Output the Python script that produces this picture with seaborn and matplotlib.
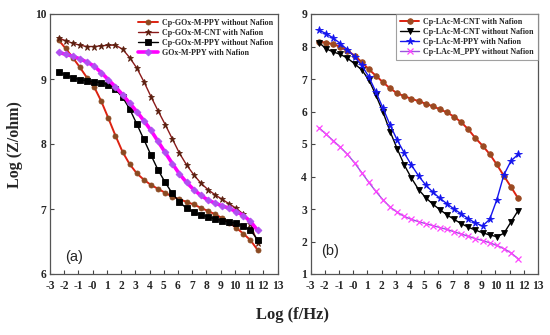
import matplotlib
matplotlib.use("Agg")
import matplotlib.pyplot as plt
import seaborn as sns
import pandas as pd

# ---------------- data ----------------
log_f = [-2.4, -1.9, -1.4, -0.9, -0.4, 0.1, 0.6, 1.1, 1.6, 2.1, 2.6, 3.1, 3.6, 4.1, 4.6,
         5.1, 5.6, 6.1, 6.6, 7.1, 7.6, 8.1, 8.6, 9.1, 9.6, 10.1, 10.6, 11.1, 11.6]

# panel (a)
gox_ppy_wo = [9.60, 9.47, 9.33, 9.18, 9.02, 8.88, 8.66, 8.40, 8.13, 7.88, 7.69, 7.55, 7.45, 7.37, 7.31,
              7.25, 7.19, 7.15, 7.11, 7.07, 7.02, 6.97, 6.92, 6.86, 6.79, 6.71, 6.62, 6.52, 6.37]
gox_cnt_w = [9.63, 9.59, 9.55, 9.52, 9.50, 9.50, 9.51, 9.52, 9.52, 9.46, 9.33, 9.17, 8.96, 8.73, 8.51,
             8.30, 8.08, 7.86, 7.68, 7.53, 7.40, 7.30, 7.22, 7.15, 7.08, 7.01, 6.92, 6.77, 6.48]
gox_ppy_wo2 = [9.11, 9.06, 9.02, 8.99, 8.97, 8.96, 8.94, 8.91, 8.84, 8.72, 8.54, 8.31, 8.07, 7.83, 7.60,
               7.41, 7.24, 7.11, 7.01, 6.95, 6.91, 6.88, 6.85, 6.82, 6.80, 6.78, 6.74, 6.67, 6.53]
gox_ppy_w = [9.41, 9.38, 9.35, 9.31, 9.26, 9.20, 9.10, 8.99, 8.88, 8.76, 8.63, 8.50, 8.36, 8.21, 8.04,
             7.87, 7.70, 7.54, 7.41, 7.30, 7.21, 7.14, 7.09, 7.05, 7.01, 6.96, 6.90, 6.81, 6.67]

# panel (b)
lac_cnt_w = [8.15, 8.12, 8.07, 7.99, 7.87, 7.72, 7.52, 7.30, 7.10, 6.90, 6.71, 6.56, 6.47, 6.39, 6.32,
             6.24, 6.16, 6.07, 5.97, 5.84, 5.67, 5.45, 5.18, 4.95, 4.69, 4.37, 4.02, 3.68, 3.33]
lac_cnt_wo = [8.12, 7.93, 7.83, 7.76, 7.64, 7.47, 7.28, 6.98, 6.50, 5.98, 5.38, 4.85, 4.35, 3.95, 3.60,
              3.35, 3.15, 2.98, 2.82, 2.68, 2.55, 2.44, 2.35, 2.27, 2.20, 2.15, 2.25, 2.60, 2.95]
lac_ppy_w = [8.50, 8.40, 8.26, 8.09, 7.90, 7.69, 7.42, 7.07, 6.60, 6.10, 5.58, 5.12, 4.72, 4.35, 4.02,
             3.74, 3.52, 3.33, 3.16, 3.00, 2.85, 2.70, 2.57, 2.48, 2.68, 3.28, 4.05, 4.48, 4.68]
lac_ppy_wo = [5.50, 5.30, 5.10, 4.90, 4.68, 4.42, 4.12, 3.82, 3.54, 3.28, 3.06, 2.90, 2.77, 2.68, 2.61,
              2.55, 2.49, 2.43, 2.37, 2.30, 2.23, 2.16, 2.09, 2.03, 1.96, 1.88, 1.78, 1.65, 1.47]

labels_a = ["Cp-GOx-M-PPY without Nafion", "Cp-GOx-M-CNT with Nafion",
            "Cp-GOx-M-PPY without Nafion", "GOx-M-PPY with Nafion"]
labels_b = ["Cp-LAc-M-CNT with Nafion", "Cp-LAc-M-CNT without Nafion",
            "Cp-LAc-M-PPY with Nafion", "Cp-LAc-M_PPY without Nafion"]
xticks = list(range(-3, 14))
xticklabels = ["-3", "-2", "-1", "-0"] + [str(v) for v in range(1, 14)]

# ---------------- style ----------------
sns.set_style("ticks")
plt.rcParams["font.family"] = ["Liberation Serif", "DejaVu Serif"]
plt.rcParams["font.weight"] = "bold"

fig = plt.figure(figsize=(5.5, 3.35), dpi=100)
W, H = 550.0, 335.0
axA = fig.add_axes([50 / W, 1 - 274 / H, 227.5 / W, 260 / H])
axB = fig.add_axes([310.5 / W, 1 - 274 / H, 227.5 / W, 260 / H])

styles_a = [
    dict(color="#dd2211", marker="o", markersize=3.6, markerfacecolor="#8b4a22",
         markeredgecolor="#8b4a22", linewidth=1.4),
    dict(color="#8b1a1a", marker="*", markersize=5.0, markerfacecolor="#5b2010",
         markeredgecolor="#5b2010", linewidth=1.0),
    dict(color="#000000", marker="s", markersize=4.0, markerfacecolor="#000000",
         markeredgecolor="#000000", linewidth=1.0),
    dict(color="#ff00ff", marker="D", markersize=3.5, markerfacecolor="#b050f0",
         markeredgecolor="#b050f0", linewidth=2.6),
]
styles_b = [
    dict(color="#dd2211", marker="o", markersize=4.0, markerfacecolor="#9b4a22",
         markeredgecolor="#9b4a22", linewidth=1.4),
    dict(color="#000000", marker="v", markersize=4.5, markerfacecolor="#000000",
         markeredgecolor="#000000", linewidth=1.0),
    dict(color="#1515ee", marker="*", markersize=5.5, markerfacecolor="#1515ee",
         markeredgecolor="#1515ee", linewidth=1.0),
    dict(color="#9955dd", marker="x", markersize=4.0, markerfacecolor="#ff44ff",
         markeredgecolor="#ff44ff", markeredgewidth=0.9, linewidth=1.0),
]

for ax, series, labels, styles in [
    (axA, [gox_ppy_wo, gox_cnt_w, gox_ppy_wo2, gox_ppy_w], labels_a, styles_a),
    (axB, [lac_cnt_w, lac_cnt_wo, lac_ppy_w, lac_ppy_wo], labels_b, styles_b),
]:
    for vals, lab, st in zip(series, labels, styles):
        df = pd.DataFrame({"logf": log_f, "logz": vals})
        st = dict(st)
        st.setdefault("markeredgewidth", 0.6)
        sns.lineplot(data=df, x="logf", y="logz", ax=ax, label=lab,
                     estimator=None, sort=False, **st)
    ax.set_xlim(-3, 13)
    ax.set_xticks(xticks)
    ax.set_xticklabels(xticklabels)
    ax.set_xlabel("")
    ax.set_ylabel("")
    ax.tick_params(axis="both", direction="in", length=3, width=0.8, color="#444444",
                   labelsize=8.3)
    ax.tick_params(axis="x", pad=4.5)
    ax.tick_params(axis="y", pad=2.5)
    for lbl in ax.get_xticklabels() + ax.get_yticklabels():
        lbl.set_fontweight("bold")
    for sp in ax.spines.values():
        sp.set_visible(True)
        sp.set_color("#555555")
        sp.set_linewidth(0.9)

axA.set_ylim(6, 10)
axA.set_yticks([6, 7, 8, 9, 10])
axB.set_ylim(1, 9)
axB.set_yticks(list(range(1, 10)))

legA = axA.legend(loc="upper right", bbox_to_anchor=(1.0, 1.0), frameon=False,
                  prop=dict(family="Liberation Serif", weight="bold", size=5.8),
                  labelspacing=0.25, handlelength=2.4, handletextpad=0.5,
                  borderaxespad=0.3, borderpad=0.3)
legB = axB.legend(loc="upper right", bbox_to_anchor=(1.0, 1.0), frameon=True,
                  fancybox=False, edgecolor="#888888",
                  prop=dict(family="Liberation Serif", weight="bold", size=5.8),
                  labelspacing=0.25, handlelength=2.4, handletextpad=0.5,
                  borderaxespad=0.0, borderpad=0.5)
legB.get_frame().set_linewidth(0.8)

axA.text(-1.31, 6.26, "(a)", family="Liberation Sans", fontweight="normal",
         fontsize=10.5, ha="center", va="center")
axB.text(-1.63, 1.71, "(b)", family="Liberation Sans", fontweight="normal",
         fontsize=10.5, ha="center", va="center")

fig.text(15 / W, 1 - 145 / H, "Log (Z/ohm)", rotation=90, ha="center", va="center",
         fontsize=11.5, fontweight="bold")
fig.text(292 / W, 1 - 315 / H, "Log (f/Hz)", ha="center", va="center",
         fontsize=12, fontweight="bold")

fig.savefig("out.png", dpi=100)
